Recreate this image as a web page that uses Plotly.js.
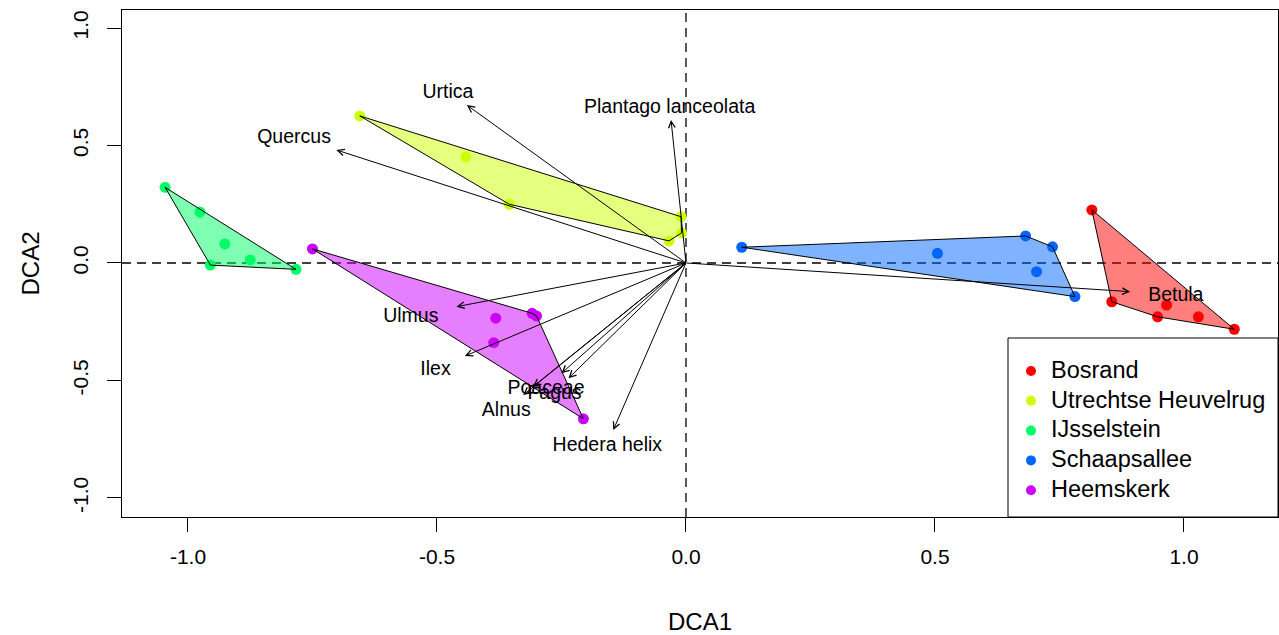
<!DOCTYPE html>
<html>
<head>
<meta charset="utf-8">
<script src="https://cdn.plot.ly/plotly-3.0.1.min.js"></script>
<style>
html, body { margin: 0; padding: 0; background: #ffffff; }
#chart { width: 1279px; height: 635px; }
</style>
</head>
<body>
<div id="chart"></div>
<script>
// ---------------- data ----------------
const groupNames = ["Bosrand", "Utrechtse Heuvelrug", "IJsselstein", "Schaapsallee", "Heemskerk"];

const bosrandX = [0.815, 0.855, 0.965, 0.947, 1.029, 1.101];
const bosrandY = [0.226, -0.165, -0.179, -0.229, -0.229, -0.282];

const utrechtX = [-0.655, -0.442, -0.355, -0.010, -0.009, -0.034];
const utrechtY = [0.626, 0.452, 0.250, 0.197, 0.128, 0.094];

const ijsselX = [-1.046, -0.976, -0.926, -0.875, -0.955, -0.783];
const ijsselY = [0.322, 0.217, 0.081, 0.013, -0.009, -0.027];

const schaapX = [0.112, 0.505, 0.682, 0.736, 0.704, 0.781];
const schaapY = [0.067, 0.041, 0.115, 0.069, -0.037, -0.143];

const heemsX = [-0.750, -0.382, -0.309, -0.300, -0.386, -0.206];
const heemsY = [0.060, -0.235, -0.214, -0.226, -0.339, -0.663];

const speciesNames = ["Urtica", "Plantago lanceolata", "Quercus", "Ulmus", "Ilex",
                      "Poaceae", "Fagus", "", "Alnus", "Hedera helix", "Betula"];
const speciesX = [-0.440, -0.030, -0.702, -0.461, -0.444, -0.250, -0.236, -0.307, -0.327, -0.146, 0.892];
const speciesY = [0.672, 0.609, 0.481, -0.186, -0.396, -0.469, -0.491, -0.526, -0.562, -0.711, -0.122];

const tickValues = [-1.0, -0.5, 0.0, 0.5, 1.0];
const tickLabels = ["-1.0", "-0.5", "0.0", "0.5", "1.0"];

// ---------------- styling / layout ----------------
const groupColors = ["#FF0000", "#CCFF00", "#00FF66", "#0066FF", "#CC00FF"];
const groupFills  = ["rgba(255,0,0,0.5)", "rgba(204,255,0,0.5)", "rgba(0,255,102,0.5)",
                     "rgba(0,102,255,0.5)", "rgba(204,0,255,0.5)"];
const groupsX = [bosrandX, utrechtX, ijsselX, schaapX, heemsX];
const groupsY = [bosrandY, utrechtY, ijsselY, schaapY, heemsY];

const FONT = "Liberation Sans, Arial, Helvetica, sans-serif";
const W = 1279, H = 635;
const M = { l: 122, r: 1, t: 10, b: 118 };
const xRange = [-1.1325, 1.1888];
const yRange = [-1.081, 1.0766];
const labelSize = 19.5;
const strScale = 1.3;          // R's strwidth/strheight scale relative to drawn text

// legend box geometry (pixels)
const legLeftPx = 1008, legTopPx = 338;
const plotW = W - M.l - M.r, plotH = H - M.t - M.b;
const legXFrac = (legLeftPx - M.l) / plotW;
const legYFrac = (H - M.b - legTopPx) / plotH;
const legWpx = W - M.r - legLeftPx, legHpx = H - M.b - legTopPx;

// convex hull (monotone chain)
function hull(xs, ys) {
  const p = xs.map((x, i) => [x, ys[i]]).sort((a, b) => a[0] - b[0] || a[1] - b[1]);
  const cross = (o, a, b) => (a[0] - o[0]) * (b[1] - o[1]) - (a[1] - o[1]) * (b[0] - o[0]);
  const lower = [], upper = [];
  for (const q of p) {
    while (lower.length >= 2 && cross(lower[lower.length - 2], lower[lower.length - 1], q) <= 0) lower.pop();
    lower.push(q);
  }
  for (let i = p.length - 1; i >= 0; i--) {
    const q = p[i];
    while (upper.length >= 2 && cross(upper[upper.length - 2], upper[upper.length - 1], q) <= 0) upper.pop();
    upper.push(q);
  }
  const h = lower.slice(0, -1).concat(upper.slice(0, -1));
  h.push(h[0]);
  return h;
}

const traces = [];
// site points
groupNames.forEach((name, g) => {
  traces.push({
    type: "scatter", mode: "markers", name: name, showlegend: false,
    x: groupsX[g], y: groupsY[g],
    marker: { color: groupColors[g], size: 11, line: { width: 0 } },
    hoverinfo: "skip"
  });
});
// hulls
groupNames.forEach((name, g) => {
  const h = hull(groupsX[g], groupsY[g]);
  traces.push({
    type: "scatter", mode: "lines", showlegend: false,
    x: h.map(p => p[0]), y: h.map(p => p[1]),
    fill: "toself", fillcolor: groupFills[g],
    line: { color: "#000000", width: 1 },
    hoverinfo: "skip"
  });
});

// label positions like vegan's ordiArrowTextXY
const pxPerX = plotW / (xRange[1] - xRange[0]);
const pxPerY = plotH / (yRange[1] - yRange[0]);
const cv = document.createElement("canvas").getContext("2d");
cv.font = labelSize + "px 'Liberation Sans', Arial";
const labX = [], labY = [];
speciesNames.forEach((s, i) => {
  const x = speciesX[i], y = speciesY[i];
  const w = strScale * cv.measureText(s).width / pxPerX;
  const h = strScale * 0.72 * labelSize / pxPerY;
  const b = y / x;
  let ox = Math.sign(x) * (w / 2 + h / 4);
  let oy = 0.75 * h * Math.sign(y);
  const mv = oy / b;
  if (isFinite(mv) && Math.abs(mv) <= Math.abs(ox)) ox = mv; else oy = b * ox;
  labX.push(x + ox); labY.push(y + oy - 2 / pxPerY);
});
traces.push({
  type: "scatter", mode: "text", showlegend: false,
  x: labX, y: labY, text: speciesNames,
  textposition: "middle center",
  textfont: { family: FONT, size: labelSize, color: "#000000" },
  hoverinfo: "skip"
});

// legend (drawn in its own small subplot)
const legRowY = groupNames.map((n, i) => legHpx - 33 - i * 29.8);
traces.push({
  type: "scatter", mode: "markers", showlegend: false, xaxis: "x2", yaxis: "y2",
  x: groupNames.map(() => 23), y: legRowY,
  marker: { color: groupColors, size: 10, line: { width: 0 } },
  hoverinfo: "skip"
});
traces.push({
  type: "scatter", mode: "text", showlegend: false, xaxis: "x2", yaxis: "y2",
  x: groupNames.map(() => 43), y: legRowY.map(v => v - 1), text: groupNames,
  textposition: "middle right",
  textfont: { family: FONT, size: 23.5, color: "#000000" },
  hoverinfo: "skip"
});

// arrows
const annotations = speciesNames.map((s, i) => ({
  xref: "x", yref: "y", axref: "x", ayref: "y",
  x: speciesX[i], y: speciesY[i], ax: 0, ay: 0,
  text: "", showarrow: true, arrowhead: 5, arrowsize: 1.3, arrowwidth: 1,
  arrowcolor: "#000000", standoff: 0, startstandoff: 0,
  font: { size: 1 }, borderpad: 0
}));

const layout = {
  width: W, height: H,
  margin: M,
  paper_bgcolor: "#ffffff", plot_bgcolor: "#ffffff",
  font: { family: FONT, color: "#000000" },
  showlegend: false,
  xaxis: {
    domain: [0, 1], anchor: "y",
    range: xRange, showgrid: false, zeroline: false,
    showline: true, mirror: true, linecolor: "#000000", linewidth: 1,
    ticks: "outside", ticklen: 14, tickcolor: "#000000", tickwidth: 1,
    tickvals: tickValues, ticktext: tickLabels,
    tickfont: { family: FONT, size: 21 },
    ticklabelstandoff: 7,
    title: { text: "DCA1", font: { family: FONT, size: 24 }, standoff: 46 }
  },
  yaxis: {
    domain: [0, 1], anchor: "x",
    range: yRange, showgrid: false, zeroline: false,
    showline: true, mirror: true, linecolor: "#000000", linewidth: 1,
    ticks: "outside", ticklen: 14, tickcolor: "#000000", tickwidth: 1,
    tickvals: tickValues, ticktext: tickLabels, tickangle: -90,
    tickfont: { family: FONT, size: 21 },
    ticklabelstandoff: 11,
    title: { text: "DCA2", font: { family: FONT, size: 24 }, standoff: 22 }
  },
  xaxis2: {
    domain: [legXFrac, 1], anchor: "y2", range: [0, legWpx],
    visible: false, fixedrange: true
  },
  yaxis2: {
    domain: [0, legYFrac], anchor: "x2", range: [0, legHpx],
    visible: false, fixedrange: true
  },
  shapes: [
    { type: "line", xref: "x", yref: "paper", x0: 0, x1: 0, y0: 0, y1: 1, layer: "below",
      line: { color: "#000000", width: 1.3, dash: "9px,6px" } },
    { type: "line", xref: "paper", yref: "y", x0: 0, x1: 1, y0: 0, y1: 0, layer: "below",
      line: { color: "#000000", width: 1.3, dash: "9px,6px" } },
    { type: "rect", xref: "paper", yref: "paper", x0: legXFrac, x1: 1, y0: 0, y1: legYFrac,
      layer: "above", fillcolor: "rgba(0,0,0,0)", line: { color: "#000000", width: 1 } }
  ],
  annotations: annotations
};

Plotly.newPlot("chart", traces, layout, { displayModeBar: false, staticPlot: true });
</script>
</body>
</html>
